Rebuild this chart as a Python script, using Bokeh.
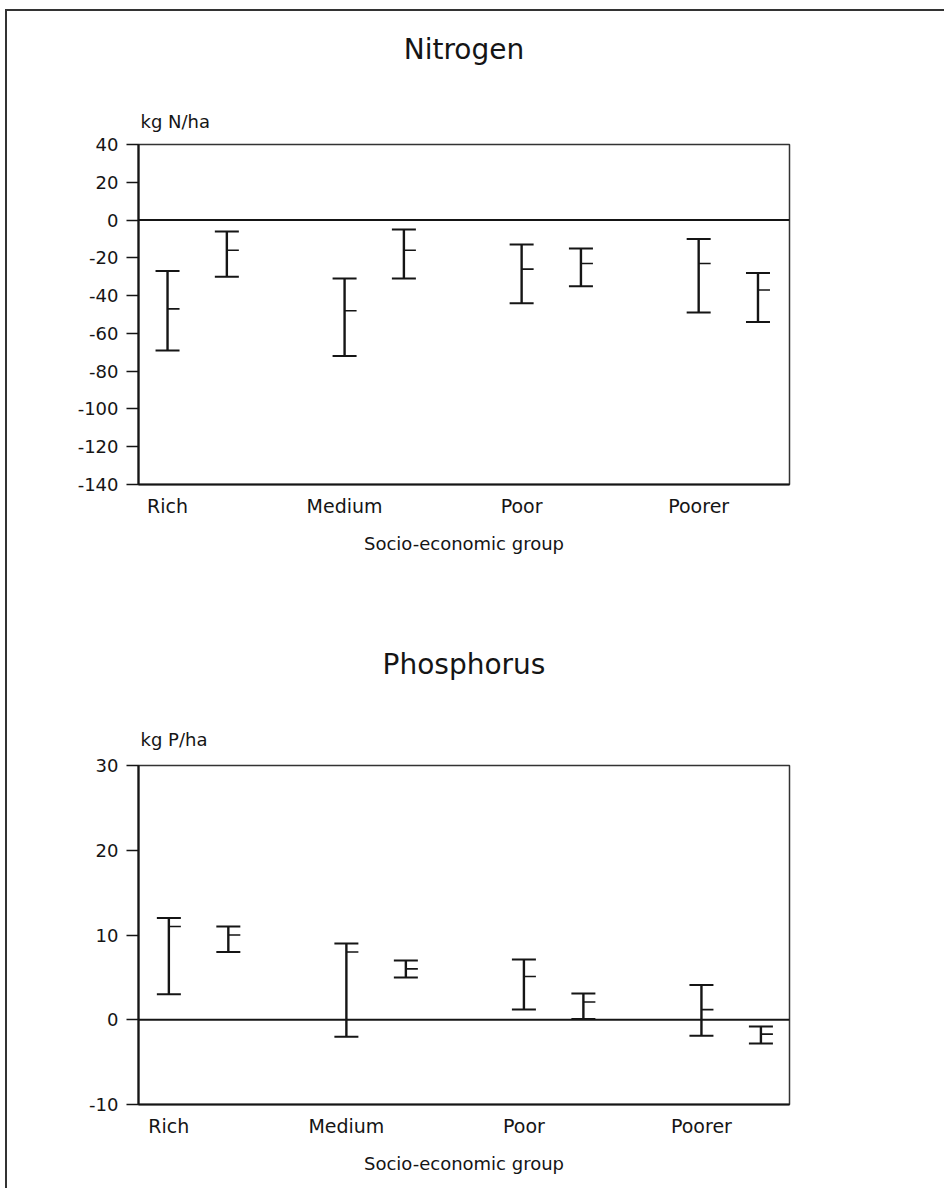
from bokeh.plotting import figure
from bokeh.models import (Range1d, FixedTicker, Whisker, TeeHead, ColumnDataSource,
                          Span, Title)
from bokeh.layouts import column
from bokeh.embed import file_html
from bokeh.resources import INLINE

# ---------------- data ----------------
categories = ["Rich", "Medium", "Poor", "Poorer"]
pair_offset = 0.335

# Nitrogen (kg N/ha): two bars per group, low / mid / high
n_a_low = [-69, -72, -44, -49]
n_a_mid = [-47, -48, -26, -23]
n_a_high = [-27, -31, -13, -10]
n_b_low = [-30, -31, -35, -54]
n_b_mid = [-16, -16, -23, -37]
n_b_high = [-6, -5, -15, -28]
n_ticks = [-140, -120, -100, -80, -60, -40, -20, 0, 20, 40]

# Phosphorus (kg P/ha)
p_a_low = [3, -2, 1.2, -1.9]
p_a_mid = [11, 8, 5.1, 1.2]
p_a_high = [12, 9, 7.1, 4.1]
p_b_low = [8, 5, 0.1, -2.8]
p_b_mid = [10, 6, 2.1, -1.7]
p_b_high = [11, 7, 3.1, -0.8]
p_ticks = [-10, 0, 10, 20, 30]

FONT = "DejaVu Sans"
INK = "#151515"


def make_chart(title, unit, x_rng, y_rng, yticks, a, b, width, height,
               mb_left, mb_right, mb_top, mb_bottom, unit_standoff,
               title_standoff):
    p = figure(width=width, height=height, x_range=Range1d(*x_rng),
               y_range=Range1d(*y_rng), output_backend="svg",
               toolbar_location=None, title=None,
               min_border_left=mb_left, min_border_right=mb_right,
               min_border_top=mb_top, min_border_bottom=mb_bottom)
    p.grid.visible = False
    p.background_fill_color = "white"
    p.border_fill_color = None
    p.outline_line_color = "#333333"
    p.outline_line_width = 1.5

    # titles
    t_unit = Title(text=unit, align="left", offset=2, text_font=FONT,
                   text_font_size="18px", text_font_style="normal",
                   text_color=INK, standoff=unit_standoff)
    p.add_layout(t_unit, "above")
    t_main = Title(text=title, align="center", offset=-6, text_font=FONT,
                   text_font_size="28px", text_font_style="normal",
                   text_color=INK, standoff=title_standoff)
    p.add_layout(t_main, "above")

    # y axis
    ya = p.yaxis[0]
    ya.ticker = FixedTicker(ticks=yticks)
    ya.major_label_overrides = {t: str(t) for t in yticks}
    ya.minor_tick_line_color = None
    ya.major_tick_out = 12
    ya.major_tick_in = 0
    ya.major_tick_line_width = 1.5
    ya.major_tick_line_color = INK
    ya.axis_line_width = 2.2
    ya.axis_line_color = INK
    ya.major_label_text_font = FONT
    ya.major_label_text_font_size = "18px"
    ya.major_label_text_color = INK
    ya.major_label_standoff = 8

    # x axis
    xa = p.xaxis[0]
    xa.ticker = FixedTicker(ticks=[0, 1, 2, 3])
    xa.major_label_overrides = {i: c for i, c in enumerate(categories)}
    xa.minor_tick_line_color = None
    xa.major_tick_out = 0
    xa.major_tick_in = 0
    xa.axis_line_width = 2
    xa.axis_line_color = INK
    xa.major_label_text_font = FONT
    xa.major_label_text_font_size = "19px"
    xa.major_label_text_color = INK
    xa.major_label_standoff = 10
    xa.axis_label = "Socio-economic group"
    xa.axis_label_text_font = FONT
    xa.axis_label_text_font_size = "18px"
    xa.axis_label_text_font_style = "normal"
    xa.axis_label_text_color = INK
    xa.axis_label_standoff = 13

    # zero line
    p.add_layout(Span(location=0, dimension="width", line_color=INK,
                      line_width=2))

    for k, (lo, mid, hi) in enumerate([a, b]):
        xs = [i + k * pair_offset for i in range(len(categories))]
        src = ColumnDataSource(dict(x=xs, lo=lo, mid=mid, hi=hi))
        w = Whisker(source=src, base="x", lower="lo", upper="hi",
                    dimension="height", line_width=2.4, line_color=INK,
                    upper_head=TeeHead(size=24, line_width=2, line_color=INK),
                    lower_head=TeeHead(size=24, line_width=2, line_color=INK))
        p.add_layout(w)
        p.ray(x="x", y="mid", length=12, length_units="screen", angle=0,
              line_width=1.6, line_color=INK, source=src)
    return p


p1 = make_chart("Nitrogen", "kg N/ha", (-0.164, 3.513), (-140, 40), n_ticks,
                (n_a_low, n_a_mid, n_a_high), (n_b_low, n_b_mid, n_b_high),
                width=944, height=605, mb_left=138, mb_right=154,
                mb_top=144, mb_bottom=121, unit_standoff=25,
                title_standoff=61)

p2 = make_chart("Phosphorus", "kg P/ha", (-0.171, 3.496), (-10, 30), p_ticks,
                (p_a_low, p_a_mid, p_a_high), (p_b_low, p_b_mid, p_b_high),
                width=944, height=583, mb_left=124, mb_right=155,
                mb_top=160, mb_bottom=84, unit_standoff=31,
                title_standoff=61)

# page frame lines (left and top edges of the scanned page)
layout = column(p1, p2, styles={
    "background-color": "white",
    "background-image": "linear-gradient(#333,#333), linear-gradient(#333,#333)",
    "background-size": "2px 100%, 100% 2px",
    "background-position": "5px 9px, 5px 9px",
    "background-repeat": "no-repeat",
})

open("out.html", "w").write(file_html(layout, INLINE))
